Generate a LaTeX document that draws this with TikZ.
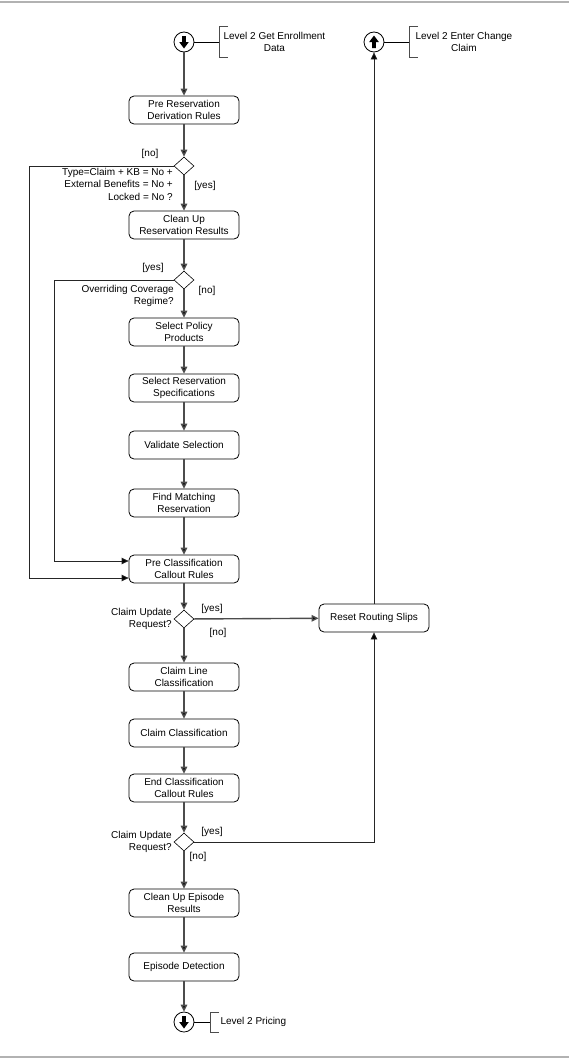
\documentclass[tikz,border=0pt]{standalone}
\usepackage{fontspec}
\setmainfont{Liberation Sans}
\usetikzlibrary{arrows.meta,shapes.geometric}

\begin{document}
\begin{tikzpicture}[x=1pt,y=-1pt,
  font=\fontsize{10}{12.3}\selectfont,
  act/.style={draw, rounded corners=5pt, line width=0.8pt, minimum width=110pt, minimum height=28pt, align=center, inner sep=1pt},
  dec/.style={draw, diamond, line width=0.6pt, minimum width=20pt, minimum height=18pt, inner sep=0pt},
  term/.style={draw, circle, line width=0.8pt, minimum size=20pt, inner sep=0pt},
  flow/.style={draw=black!70, line width=1.4pt, -{Triangle[length=7pt, width=6.5pt, fill=black]}},
  back/.style={draw=black!85, line width=0.8pt, -{Triangle[length=7pt, width=6.5pt, fill=black]}},
  guard/.style={inner sep=1pt}]
\useasboundingbox (0,0) rectangle (569,1060);
\draw[black!30, line width=1.2pt] (0,2) -- (569,2);
\draw[black!30, line width=1.2pt] (0,1057) -- (569,1057);

\node[term] (start) at (184,42) {};
\fill[shift={(start.center)}] (-1.8,-6) -- (1.8,-6) -- (1.8,0) -- (4.8,0) -- (0,6.5) -- (-4.8,0) -- (-1.8,0) -- cycle;
\node[term] (chg) at (374,42) {};
\fill[shift={(chg.center)}] (-1.8,6) -- (1.8,6) -- (1.8,0) -- (4.8,0) -- (0,-6.5) -- (-4.8,0) -- (-1.8,0) -- cycle;
\node[term] (pricing) at (184,1022) {};
\fill[shift={(pricing.center)}] (-1.8,-6) -- (1.8,-6) -- (1.8,0) -- (4.8,0) -- (0,6.5) -- (-4.8,0) -- (-1.8,0) -- cycle;

\draw[line width=0.8pt] (start.east) -- (219,42);
\draw[black!70, line width=1pt] (228,26) -- (219,26) -- (219,57) -- (228,57);
\node[align=center, anchor=west] (startnote) at (220,42) {Level 2 Get Enrollment\\Data};
\draw[line width=0.8pt] (chg.east) -- (409,42);
\draw[black!70, line width=1pt] (418,26) -- (409,26) -- (409,57) -- (418,57);
\node[align=center, anchor=west] (chgnote) at (412,42) {Level 2 Enter Change\\Claim};
\draw[line width=0.8pt] (pricing.east) -- (210,1022);
\draw[black!70, line width=1pt] (219,1012) -- (210,1012) -- (210,1032) -- (219,1032);
\node[anchor=west] (pricingnote) at (217,1022) {Level 2 Pricing};

\node[act] (prerules) at (184,110) {Pre Reservation\\Derivation Rules};
\node[dec] (typeq) at (184,166) {};
\node[act] (cleanres) at (184,225) {Clean Up\\Reservation Results};
\node[dec] (overq) at (184,280) {};
\node[act] (policy) at (184,332) {Select Policy\\Products};
\node[act] (specs) at (184,388) {Select Reservation\\Specifications};
\node[act] (validate) at (184,445) {Validate Selection};
\node[act] (matching) at (184,503) {Find Matching\\Reservation};
\node[act] (precallout) at (184,569) {Pre Classification\\Callout Rules};
\node[dec] (updq) at (184,619) {};
\node[act] (routing) at (374,618) {Reset Routing Slips};
\node[act] (lineclass) at (184,677) {Claim Line\\Classification};
\node[act] (claimclass) at (184,733) {Claim Classification};
\node[act] (endcallout) at (184,788) {End Classification\\Callout Rules};
\node[dec] (updq2) at (184,842) {};
\node[act] (cleanepi) at (184,903) {Clean Up Episode\\Results};
\node[act] (episode) at (184,967) {Episode Detection};

\node[align=right, anchor=north east, inner sep=0pt] (typeqt) at (173,168) {Type=Claim + KB = No +\\External Benefits = No +\\Locked = No ?};
\node[align=right, anchor=north east, inner sep=0pt] (overqt) at (174,285) {Overriding Coverage\\Regime?};
\node[align=right, anchor=east, inner sep=0pt] (updqt) at (172,619) {Claim Update\\Request?};
\node[align=right, anchor=east, inner sep=0pt] (updqt2) at (172,842) {Claim Update\\Request?};

\draw[flow] (start) -- (prerules);
\draw[flow] (prerules) -- (typeq);
\draw[flow] (typeq) -- (cleanres);
\draw[flow] (cleanres) -- (overq);
\draw[flow] (overq) -- (policy);
\draw[flow] (policy) -- (specs);
\draw[flow] (specs) -- (validate);
\draw[flow] (validate) -- (matching);
\draw[flow] (matching) -- (precallout);
\draw[flow] (precallout) -- (updq);
\draw[flow] (updq) -- (routing);
\draw[flow] (updq) -- (lineclass);
\draw[flow] (lineclass) -- (claimclass);
\draw[flow] (claimclass) -- (endcallout);
\draw[flow] (endcallout) -- (updq2);
\draw[flow] (updq2) -- (cleanepi);
\draw[flow] (cleanepi) -- (episode);
\draw[flow] (episode) -- (pricing);
\draw[back] (typeq.west) -- ++(-144,0) |- ([yshift=-9pt]precallout.west);
\draw[back] (overq.west) -- ++(-119,0) |- ([yshift=8pt]precallout.west);
\draw[back] (routing) -- (chg);
\draw[back] (updq2.east) -| (routing.south);

\node[guard] (typeno) at (150,154) {[no]};
\node[guard] (typeyes) at (205,186) {[yes]};
\node[guard] (overyes) at (153,268) {[yes]};
\node[guard] (overno) at (207,291) {[no]};
\node[guard] (updyes) at (212,609) {[yes]};
\node[guard] (updno) at (218,633) {[no]};
\node[guard] (updyes2) at (212,832) {[yes]};
\node[guard] (updno2) at (198,857) {[no]};
\end{tikzpicture}
\end{document}
